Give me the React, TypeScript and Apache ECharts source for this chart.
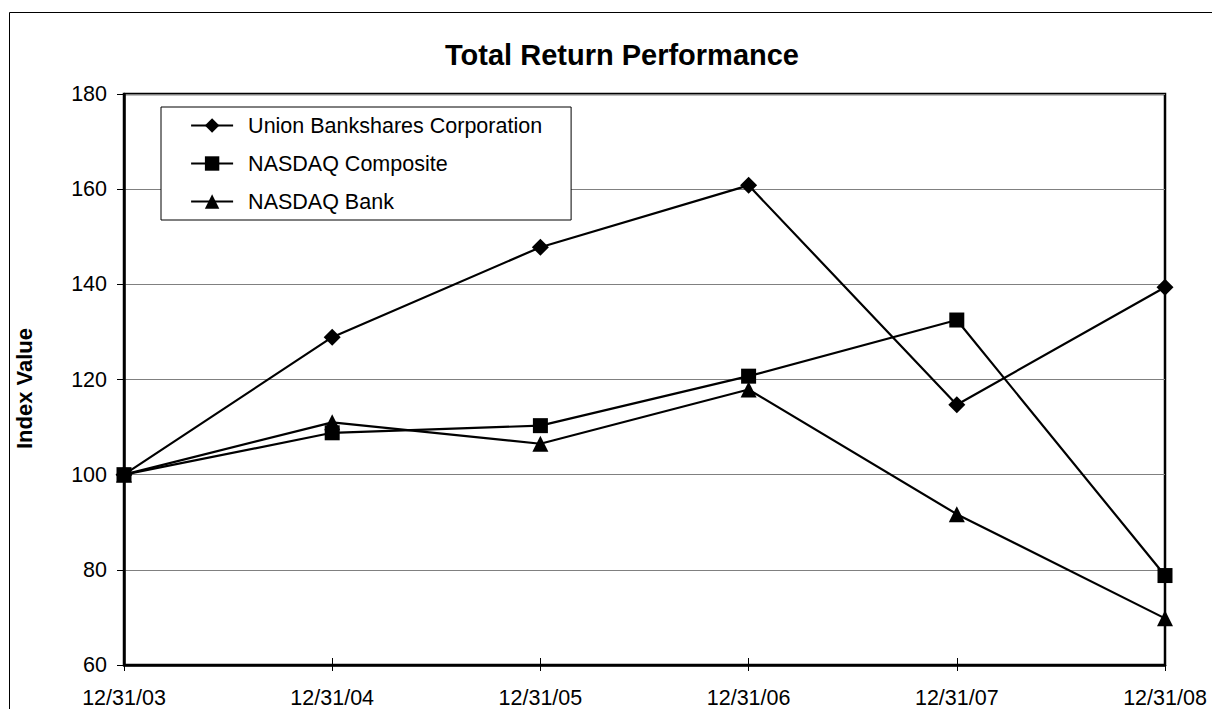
import React, { useEffect, useRef } from "react";
import * as echarts from "echarts";

const categories = ["12/31/03", "12/31/04", "12/31/05", "12/31/06", "12/31/07", "12/31/08"];
const unionBankshares = [100, 128.9, 147.8, 160.8, 114.7, 139.4];
const nasdaqComposite = [100, 108.8, 110.3, 120.7, 132.5, 78.8];
const nasdaqBank = [100, 111.0, 106.5, 117.9, 91.7, 69.8];

const FONT = '"Liberation Sans", Arial, sans-serif';

export default function App() {
  const ref = useRef<HTMLDivElement>(null);
  useEffect(() => {
    if (!ref.current) return;
    const chart = echarts.init(ref.current, null, { renderer: "svg" });
    const mk = (name: string, data: number[], symbol: string, size: number) => ({
      name,
      type: "line",
      data,
      symbol,
      symbolSize: size,
      showSymbol: true,
      xAxisIndex: 0,
      lineStyle: { color: "#000", width: 2.2 },
      itemStyle: { color: "#000", borderWidth: 0 },
      z: 5,
    });
    chart.setOption({
      animation: false,
      backgroundColor: "#fff",
      textStyle: { fontFamily: FONT },
      title: {
        text: "Total Return Performance",
        left: 617,
        textAlign: "center",
        top: 35,
        textStyle: { fontFamily: FONT, fontSize: 29, fontWeight: "bold", color: "#000" },
      },
      legend: {
        orient: "vertical",
        left: 161,
        top: 107,
        width: 415,
        height: 115,
        padding: [6, 29, 6, 29],
        itemGap: 13,
        itemWidth: 42,
        itemHeight: 18,
        borderColor: "#000",
        borderWidth: 1,
        backgroundColor: "#fff",
        lineStyle: { width: 2.2 },
        textStyle: { fontFamily: FONT, fontSize: 21.5, color: "#000", padding: [0, 0, 0, 10], lineHeight: 25 },
        data: ["Union Bankshares Corporation", "NASDAQ Composite", "NASDAQ Bank"],
      },
      grid: {
        left: 124,
        top: 94,
        right: 47,
        bottom: 43,
        show: true,
        borderColor: "#000",
        borderWidth: 2.5,
        containLabel: false,
      },
      xAxis: [
        {
          type: "category",
          data: categories,
          boundaryGap: false,
          axisLine: { show: true, lineStyle: { color: "#000", width: 2.5 } },
          axisTick: { show: true, length: 6, lineStyle: { color: "#000", width: 1 } },
          axisLabel: { color: "#000", fontSize: 21.5, fontFamily: FONT, margin: 22 },
          splitLine: { show: false },
        },
        {
          type: "category",
          data: categories,
          boundaryGap: false,
          position: "bottom",
          axisLine: { show: false },
          axisTick: { show: true, inside: true, length: 7, lineStyle: { color: "#000", width: 1 } },
          axisLabel: { show: false },
          splitLine: { show: false },
        },
      ],
      yAxis: {
        type: "value",
        min: 60,
        max: 180,
        interval: 20,
        name: "Index Value",
        nameLocation: "middle",
        nameGap: 89,
        nameRotate: 90,
        nameTextStyle: { fontFamily: FONT, fontSize: 22, fontWeight: "bold", color: "#000", padding: [0, 18, 0, 0] },
        axisLine: { show: true, lineStyle: { color: "#000", width: 2.5 } },
        axisTick: { show: true, length: 7, lineStyle: { color: "#000", width: 1 } },
        axisLabel: { color: "#000", fontSize: 21.5, fontFamily: FONT, margin: 17 },
        splitLine: { show: true, lineStyle: { color: "#808080", width: 1 } },
      },
      graphic: [
        {
          type: "rect",
          shape: { x: 9.5, y: 12.5, width: 1400, height: 900 },
          style: { fill: "none", stroke: "#000", lineWidth: 1 },
          silent: true,
          z: -10,
        },
      ],
      series: [
        mk("Union Bankshares Corporation", unionBankshares, "diamond", 17),
        mk("NASDAQ Composite", nasdaqComposite, "rect", 15),
        mk("NASDAQ Bank", nasdaqBank, "triangle", 16),
      ],
    });
    return () => chart.dispose();
  }, []);
  return (
    <div
      ref={ref}
      style={{ position: "absolute", left: 0, top: 0, width: 1212, height: 709, background: "#fff" }}
    />
  );
}
